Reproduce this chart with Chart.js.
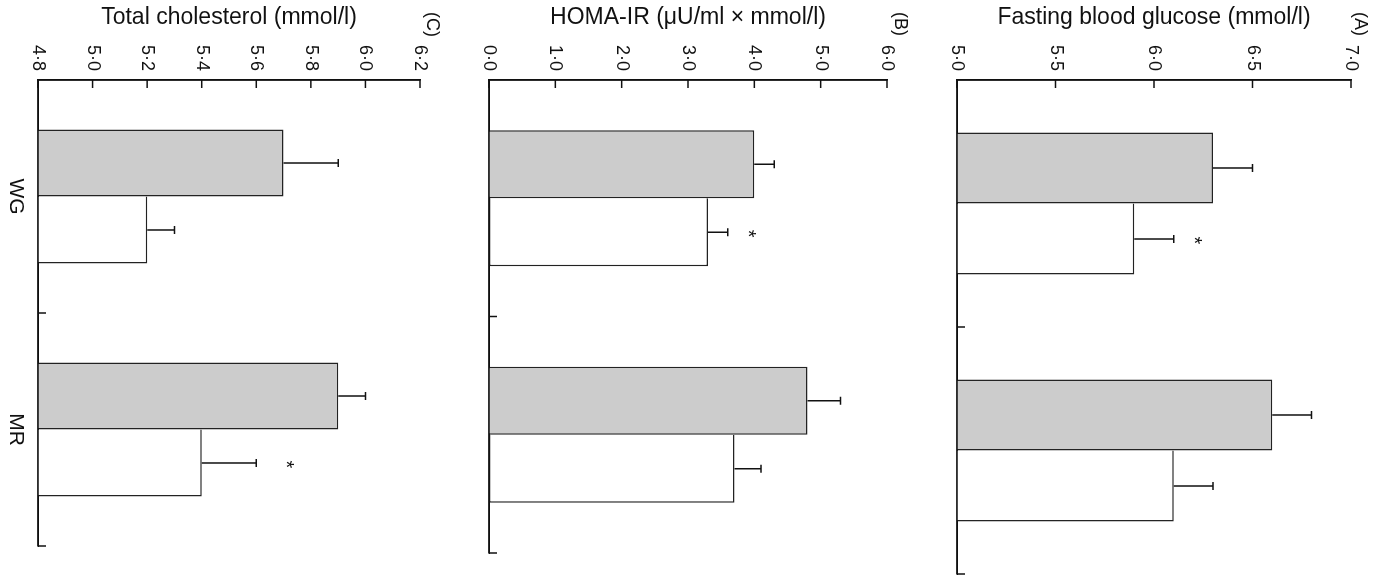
<!DOCTYPE html>
<html><head><meta charset="utf-8">
<script src="https://cdn.jsdelivr.net/npm/chart.js@4.4.1/dist/chart.umd.min.js"></script>
<style>
html,body{margin:0;padding:0;background:#fff;width:1381px;height:578px;overflow:hidden;}
#fig{position:absolute;left:0;top:0;width:578px;height:1381px;transform-origin:0 0;transform:translateX(1381px) rotate(90deg);background:#fff;}
#fig canvas{position:absolute;left:0;}
</style></head><body>
<div id="fig">
<canvas id="cA" width="578" height="460" style="top:0px"></canvas>
<canvas id="cB" width="578" height="470" style="top:460px"></canvas>
<canvas id="cC" width="578" height="451" style="top:930px"></canvas>
</div>
<script>
// ---------- data ----------
const categories = ['WG', 'MR'];

const glucoseTitle = 'Fasting blood glucose (mmol/l)';
const glucoseGrey = [6.3, 6.6];
const glucoseGreyErr = [0.2, 0.2];
const glucoseWhite = [5.9, 6.1];
const glucoseWhiteErr = [0.2, 0.2];
const glucoseSig = [true, false];
const glucoseTicks = [5.0, 5.5, 6.0, 6.5, 7.0];

const homaTitle = 'HOMA-IR (μU/ml × mmol/l)';
const homaGrey = [4.0, 4.8];
const homaGreyErr = [0.3, 0.5];
const homaWhite = [3.3, 3.7];
const homaWhiteErr = [0.3, 0.4];
const homaSig = [true, false];
const homaTicks = [0, 1, 2, 3, 4, 5, 6];

const cholTitle = 'Total cholesterol (mmol/l)';
const cholGrey = [5.7, 5.9];
const cholGreyErr = [0.2, 0.1];
const cholWhite = [5.2, 5.4];
const cholWhiteErr = [0.1, 0.2];
const cholSig = [false, true];
const cholTicks = [4.8, 5.0, 5.2, 5.4, 5.6, 5.8, 6.0, 6.2];

// ---------- drawing ----------
const FONT = '"Liberation Sans", Arial, Helvetica, sans-serif';
const INK = '#111';

const figExtras = {
  id: 'figExtras',
  afterDatasetsDraw(chart, args, opts) {
    const ctx = chart.ctx;
    const xs = chart.scales.x, ys = chart.scales.y;
    const ca = chart.chartArea;
    ctx.save();
    ctx.strokeStyle = INK;
    ctx.lineWidth = 1.5;
    // axis lines redrawn over the bar fills
    ctx.beginPath();
    ctx.moveTo(ca.left, ys.getPixelForValue(ys.max));
    ctx.lineTo(ca.left, ca.bottom);
    ctx.lineTo(xs.getPixelForValue(categories.length - 0.5), ca.bottom);
    ctx.stroke();
    // inner tick marks on value axis
    ys.ticks.forEach(t => {
      const py = ys.getPixelForValue(t.value);
      ctx.beginPath(); ctx.moveTo(ca.left, py); ctx.lineTo(ca.left + 8, py); ctx.stroke();
    });
    // boundary tick marks on category axis
    for (let k = 0; k < categories.length; k++) {
      const px = xs.getPixelForValue(k + 0.5);
      ctx.beginPath(); ctx.moveTo(px, ca.bottom); ctx.lineTo(px, ca.bottom - 8); ctx.stroke();
    }
    // error bars
    opts.errors.forEach((errArr, di) => {
      const meta = chart.getDatasetMeta(di);
      meta.data.forEach((bar, j) => {
        const v = chart.data.datasets[di].data[j];
        const top = ys.getPixelForValue(v + errArr[j]);
        ctx.beginPath();
        ctx.moveTo(bar.x, bar.y); ctx.lineTo(bar.x, top);
        ctx.moveTo(bar.x - 4, top); ctx.lineTo(bar.x + 4, top);
        ctx.stroke();
      });
    });
    // significance stars on the second series
    ctx.fillStyle = INK;
    ctx.font = '20px ' + FONT;
    ctx.textAlign = 'center';
    ctx.textBaseline = 'alphabetic';
    const m = ctx.measureText('*');
    const half = (m.actualBoundingBoxAscent - m.actualBoundingBoxDescent) / 2;
    const meta1 = chart.getDatasetMeta(1);
    opts.sig.forEach((s, j) => {
      if (!s) return;
      const bar = meta1.data[j];
      const v = chart.data.datasets[1].data[j];
      const top = ys.getPixelForValue(v + opts.errors[1][j]);
      ctx.fillText('*', bar.x + 1.5, top - opts.starGap + half);
    });
    // panel letter
    ctx.font = '18px ' + FONT;
    ctx.textAlign = 'left';
    ctx.textBaseline = 'middle';
    ctx.fillText(opts.letter, 12, opts.letterY);
    ctx.restore();
  }
};

function fmt(v) { return Number(v).toFixed(1).replace('.', '·'); }

function makePanel(id, cfg) {
  return new Chart(document.getElementById(id), {
    type: 'bar',
    data: {
      labels: categories,
      datasets: [
        { data: cfg.grey, backgroundColor: '#cccccc', borderColor: '#222', borderWidth: 1.5,
          borderSkipped: 'start', categoryPercentage: 0.575, barPercentage: 1.0 },
        { data: cfg.white, backgroundColor: '#ffffff', borderColor: '#222', borderWidth: 1.5,
          borderSkipped: 'left', categoryPercentage: 0.575, barPercentage: 1.0 }
      ]
    },
    options: {
      responsive: false,
      animation: false,
      events: [],
      layout: { padding: { top: cfg.padTop, right: cfg.padRight, left: 0, bottom: 0 } },
      plugins: {
        legend: { display: false },
        tooltip: { enabled: false },
        figExtras: { errors: [cfg.greyErr, cfg.whiteErr], sig: cfg.sig, starGap: cfg.starGap,
                     letter: cfg.letter, letterY: cfg.letterY }
      },
      scales: {
        x: {
          offset: true,
          grid: { display: false, drawTicks: false, offset: true },
          border: { display: true, color: INK, width: 1.5 },
          ticks: { display: cfg.showCats, color: INK, padding: 10, font: { family: FONT, size: 21 } },
          afterFit: s => { s.height = cfg.xHeight; }
        },
        y: {
          min: cfg.ticks[0],
          max: cfg.ticks[cfg.ticks.length - 1],
          afterBuildTicks: s => { s.ticks = cfg.ticks.map(v => ({ value: v })); },
          grid: { display: false, drawTicks: false },
          border: { display: true, color: INK, width: 1.5 },
          ticks: { color: INK, padding: 9, font: { family: FONT, size: 18 }, callback: v => fmt(v) },
          title: { display: true, text: cfg.title, color: INK, font: { family: FONT, size: 23 },
                   padding: { top: 4, bottom: 0 } },
          afterFit: s => { s.width = 80; }
        }
      }
    },
    plugins: [figExtras]
  });
}

makePanel('cA', { grey: glucoseGrey, greyErr: glucoseGreyErr, white: glucoseWhite, whiteErr: glucoseWhiteErr,
  sig: glucoseSig, ticks: glucoseTicks, title: glucoseTitle, letter: '(A)', letterY: 21,
  padTop: 30, padRight: 4, xHeight: 36, showCats: false, starGap: 24 });
makePanel('cB', { grey: homaGrey, greyErr: homaGreyErr, white: homaWhite, whiteErr: homaWhiteErr,
  sig: homaSig, ticks: homaTicks, title: homaTitle, letter: '(B)', letterY: 21,
  padTop: 34, padRight: 25, xHeight: 38, showCats: false, starGap: 24 });
makePanel('cC', { grey: cholGrey, greyErr: cholGreyErr, white: cholWhite, whiteErr: cholWhiteErr,
  sig: cholSig, ticks: cholTicks, title: cholTitle, letter: '(C)', letterY: 19,
  padTop: 31, padRight: 32, xHeight: 38, showCats: true, starGap: 34 });
</script>
</body></html>
